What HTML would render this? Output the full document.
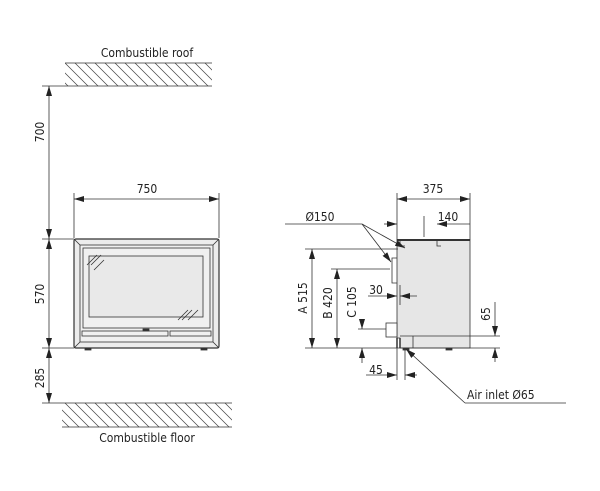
<!DOCTYPE html>
<html><head><meta charset="utf-8"><style>
html,body{margin:0;padding:0;background:#fff}
svg{display:block}
text{font-family:"DejaVu Sans Condensed","Liberation Sans",sans-serif;font-size:12px;fill:#222}
</style></head><body>
<svg width="600" height="491" viewBox="0 0 600 491" xmlns="http://www.w3.org/2000/svg">
<defs>
<marker id="a" viewBox="0 0 10 6" refX="10" refY="3" markerWidth="10" markerHeight="6" orient="auto-start-reverse" markerUnits="userSpaceOnUse"><path d="M0,0 L10,3 L0,6 z" fill="#222"/></marker>
<pattern id="h" width="10" height="24" patternUnits="userSpaceOnUse" patternTransform="skewX(45)"><line x1="2" y1="0" x2="2" y2="24" stroke="#444" stroke-width="1"/></pattern>
</defs>
<g stroke="#333" stroke-width="0.8" fill="none">
<rect x="65" y="63" width="147" height="23" fill="url(#h)" stroke="none"/>
<line x1="65" y1="63" x2="212" y2="63"/>
<line x1="42" y1="86" x2="212" y2="86"/>
<rect x="62" y="403" width="170" height="24" fill="url(#h)" stroke="none"/>
<line x1="42" y1="403" x2="232" y2="403"/>
<line x1="62" y1="427" x2="232" y2="427"/>
<line x1="49" y1="86" x2="49" y2="239" marker-start="url(#a)" marker-end="url(#a)"/>
<line x1="49" y1="239" x2="49" y2="348" marker-start="url(#a)" marker-end="url(#a)"/>
<line x1="49" y1="348" x2="49" y2="403" marker-start="url(#a)" marker-end="url(#a)"/>
<line x1="42" y1="239" x2="74" y2="239"/>
<line x1="42" y1="348" x2="74" y2="348"/>
<line x1="74" y1="199" x2="219" y2="199" marker-start="url(#a)" marker-end="url(#a)"/>
<line x1="74" y1="193" x2="74" y2="238"/>
<line x1="219" y1="193" x2="219" y2="238"/>
<rect x="74" y="239" width="145" height="109" rx="2" fill="#ececec" stroke="#333" stroke-width="1.2"/>
<rect x="80" y="245" width="133" height="97" fill="#f0f0f0"/>
<line x1="74" y1="239" x2="80" y2="245"/><line x1="219" y1="239" x2="213" y2="245"/>
<line x1="74" y1="348" x2="80" y2="342"/><line x1="219" y1="348" x2="213" y2="342"/>
<rect x="83" y="248" width="127" height="80"/>
<rect x="89" y="256" width="114" height="61" fill="#e9e9e9"/>
<rect x="82" y="331" width="86" height="5"/>
<rect x="170" y="331" width="41" height="5"/>
<rect x="143" y="329" width="6" height="2" fill="#333"/>
<rect x="85" y="348" width="6" height="2" fill="#333"/>
<rect x="201" y="348" width="6" height="2" fill="#333"/>
<line x1="87" y1="265" x2="97" y2="255"/><line x1="91" y1="265" x2="101" y2="255"/><line x1="94" y1="270" x2="104" y2="260"/>
<line x1="178" y1="320" x2="188" y2="310"/><line x1="182" y1="320" x2="192" y2="310"/><line x1="188" y1="320" x2="198" y2="310"/>

<path d="M397,240 H470 V348 H400 V338 H397 Z" fill="#e6e6e6"/>
<line x1="397" y1="240" x2="470" y2="240" stroke-width="2"/>
<path d="M400,240 V246 H405 M437,240 V246 H441"/>
<path d="M397,258 H392 V283 H397"/>
<line x1="400" y1="338" x2="400" y2="348" stroke-width="1.5"/>
<line x1="397" y1="338" x2="397" y2="348" stroke-width="1.5"/>
<line x1="413" y1="336" x2="413" y2="348"/>
<rect x="386" y="323" width="11" height="14" fill="#fff"/>
<rect x="403" y="348" width="6" height="2" fill="#333"/><rect x="446" y="348" width="6" height="2" fill="#333"/>
<line x1="397" y1="199" x2="470" y2="199" marker-start="url(#a)" marker-end="url(#a)"/>
<line x1="397" y1="193" x2="397" y2="240"/>
<line x1="470" y1="193" x2="470" y2="240"/>
<line x1="384" y1="224" x2="397" y2="224" marker-end="url(#a)"/>
<line x1="437" y1="224" x2="470" y2="224" marker-start="url(#a)"/>
<line x1="424" y1="216" x2="424" y2="237"/>
<line x1="285" y1="224" x2="362" y2="224"/>
<line x1="362" y1="224" x2="405" y2="248" marker-end="url(#a)"/>
<line x1="362" y1="224" x2="391" y2="262" marker-end="url(#a)"/>
<line x1="305" y1="249" x2="398" y2="249"/>
<line x1="312" y1="249" x2="312" y2="348" marker-start="url(#a)" marker-end="url(#a)"/>
<line x1="331" y1="269" x2="390" y2="269"/>
<line x1="337" y1="269" x2="337" y2="348" marker-start="url(#a)" marker-end="url(#a)"/>
<line x1="358" y1="329" x2="386" y2="329"/>
<line x1="362" y1="320" x2="362" y2="329" marker-end="url(#a)"/>
<line x1="362" y1="363" x2="362" y2="348" marker-end="url(#a)"/>
<line x1="305" y1="348" x2="500" y2="348"/>
<line x1="368" y1="296" x2="397" y2="296" marker-end="url(#a)"/>
<line x1="417" y1="296" x2="400" y2="296" marker-end="url(#a)"/>
<line x1="400" y1="285" x2="400" y2="305"/>
<line x1="400" y1="336" x2="500" y2="336"/>
<line x1="495" y1="302" x2="495" y2="336" marker-end="url(#a)"/>
<line x1="495" y1="362" x2="495" y2="348" marker-end="url(#a)"/>
<line x1="397" y1="348" x2="397" y2="380"/>
<line x1="405" y1="348" x2="405" y2="380"/>
<line x1="366" y1="375" x2="397" y2="375" marker-end="url(#a)"/>
<line x1="417" y1="375" x2="405" y2="375" marker-end="url(#a)"/>
<line x1="465" y1="403" x2="566" y2="403"/>
<line x1="465" y1="403" x2="406" y2="349" marker-end="url(#a)"/>
</g>
<text x="147" y="57" text-anchor="middle">Combustible roof</text>
<text x="147" y="442" text-anchor="middle">Combustible floor</text>
<text x="147" y="193" text-anchor="middle">750</text>
<text transform="translate(44,132) rotate(-90)" text-anchor="middle">700</text>
<text transform="translate(44,294) rotate(-90)" text-anchor="middle">570</text>
<text transform="translate(44,378) rotate(-90)" text-anchor="middle">285</text>
<text x="433" y="193" text-anchor="middle">375</text>
<text x="448" y="221" text-anchor="middle">140</text>
<text x="320" y="221" text-anchor="middle">Ø150</text>
<text x="376" y="294" text-anchor="middle">30</text>
<text x="376" y="374" text-anchor="middle">45</text>
<text x="467" y="399">Air inlet Ø65</text>
<text transform="translate(307,298) rotate(-90)" text-anchor="middle">A 515</text>
<text transform="translate(332,303) rotate(-90)" text-anchor="middle">B 420</text>
<text transform="translate(356,302) rotate(-90)" text-anchor="middle">C 105</text>
<text transform="translate(490,314) rotate(-90)" text-anchor="middle">65</text>
</svg>
</body></html>
